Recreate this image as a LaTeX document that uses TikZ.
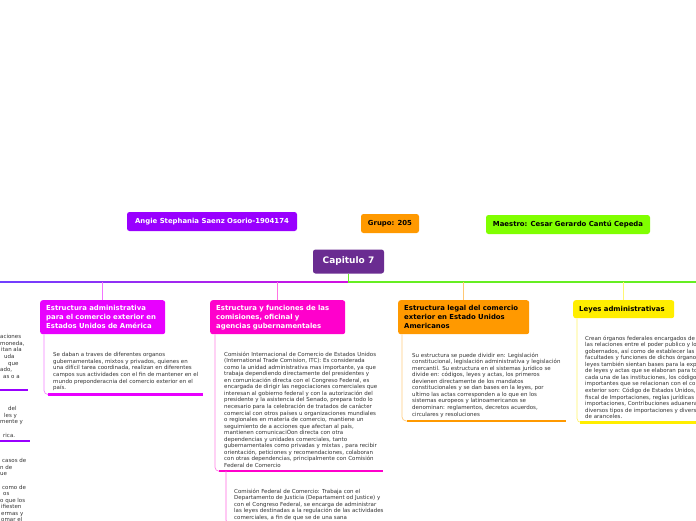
\documentclass[tikz,border=0pt]{standalone}
\usepackage{fontspec}
\setmainfont{DejaVu Sans}
\usepackage{tikz}
\usetikzlibrary{positioning,calc}
\definecolor{morado}    {RGB}{106, 44,145}
\definecolor{violeta}   {RGB}{153,  0,255}
\definecolor{naranja}   {RGB}{255,153,  0}
\definecolor{lima}      {RGB}{128,255,  0}
\definecolor{magentaRama}{RGB}{232, 0,255}
\definecolor{rosa}      {RGB}{255,  0,204}
\definecolor{amarillo}  {RGB}{255,238,  0}
\definecolor{ramaVerde} {RGB}{102,238, 34}
\definecolor{ramaIzq}   {RGB}{112, 64,255}
\definecolor{ramaDer}   {RGB}{208, 16,224}

\begin{document}
\begin{tikzpicture}[x=1pt,y=-1pt,
          cabeza/.style={rounded corners=2.5pt,inner sep=0pt,minimum height=19pt,
                         font=\fontsize{6.9}{9}\selectfont\bfseries},
          rama/.style={cabeza,anchor=north west,inner xsep=6pt,align=left,
                       minimum height=34pt},
          texto/.style={anchor=north west,inner sep=0pt,align=left,text=black!80,
                        font=\fontsize{5.5}{6.55}\selectfont},
          enlace/.style={line width=0.7pt,rounded corners=4pt},
          subrayado/.style={line width=2.5pt},
        ]
        \path[fill=white,use as bounding box] (0,0) rectangle (696,520);
        \clip (0,0) rectangle (696,520);
        % cabecera
        \node[cabeza,fill=violeta,text=white,minimum width=170pt] (autor) at (212,221.5)
             {Angie Stephania Saenz Osorio-1904174};
        \node[cabeza,fill=naranja,minimum width=58pt] (grupo) at (390,223.5) {Grupo: 205};
        \node[cabeza,fill=lima,minimum width=164pt] (maestro) at (568,224.5)
             {Maestro: Cesar Gerardo Cantú Cepeda};
        \node[cabeza,fill=morado,text=white,minimum width=71pt,minimum height=24pt,
              font=\fontsize{9}{11}\selectfont\bfseries] (cap) at (348.5,261.5) {Capitulo 7};
        \coordinate (hub) at (cap.south |- 0,282);
        % ramas
        \node[rama,fill=magentaRama,text=white,text width=113pt] (b1) at (40,300)
             {Estructura administrativa\\para el comercio exterior en\\Estados Unidos de América};
        \node[rama,fill=rosa,text=white,text width=123pt] (b2) at (210,300)
             {Estructura y funciones de las\\comisiones, oficinal y\\agencias gubernamentales};
        \node[rama,fill=naranja,text width=119pt] (b3) at (398,300)
             {Estructura legal del comercio\\exterior en Estado Unidos\\Americanos};
        \node[rama,fill=amarillo,text width=89pt,minimum height=18pt] (b4) at (573,300)
             {Leyes administrativas};
        \shade[left color=ramaIzq,right color=ramaDer] (0,281.2) rectangle ([yshift=-0.8pt]hub);
        \draw[ramaVerde,line width=1.6pt] (cap.south) |- (696,282);
        \foreach \b/\c in {b1/magentaRama,b2/rosa,b3/naranja,b4/amarillo}{
          \draw[\c!55,line width=0.8pt] (\b.north) -- (\b.north |- hub);
        }
        % textos
        \node[texto] (t1) at (53,352.5)
             {Se daban a traves de diferentes organos\\
              gubernamentales, mixtos y privados, quienes en\\
              una difícil tarea coordinada, realizan en diferentes\\
              campos sus actividades con el fin de mantener en el\\
              mundo preponderacnia del comercio exterior en el\\
              país.};
        \node[texto] (t2a) at (224,351.5)
             {Comisión Internacional de Comercio de Estados Unidos\\
              (International Trade Comision, ITC): Es considerada\\
              como la unidad administrativa mas importante, ya que\\
              trabaja dependiendo directamente del presidentes y\\
              en comunicación directa con el Congreso Federal, es\\
              encargada de dirigir las negociaciones comerciales que\\
              interesan al gobierno federal y con la autorización del\\
              presidente y la asistencia del Senado, prepara todo lo\\
              necesario para la celebración de tratados de carácter\\
              comercial con otros países u organizaciones mundiales\\
              o regionales en materia de comercio, mantiene un\\
              seguimiento de a acciones que afectan al país,\\
              mantienen comunicaciÓon directa con otra\\
              dependencias y unidades comerciales, tanto\\
              gubernamentales como privadas y mixtas , para recibir\\
              orientación, peticiones y recomendaciones, colaboran\\
              con otras dependencias, principalmente con Comisión\\
              Federal de Comercio};
        \node[texto] (t2b) at (234,488.5)
             {Comisión Federal de Comercio: Trabaja con el\\
              Departamento de Justicia (Departament od Justice) y\\
              con el Congreso Federal, se encarga de administrar\\
              las leyes destinadas a la regulación de las actividades\\
              comerciales, a fin de que se de una sana};
        \node[texto] (t3) at (412,352.5)
             {Su estructura se puede dividir en: Legislación\\
              constitucional, legislación administrativa y legislación\\
              mercantil. Su estructura en el sistemas jurídico se\\
              divide en: códigos, leyes y actas, los primeros\\
              devienen directamente de los mandatos\\
              constitucionales y se dan bases en la leyes, por\\
              ultimo las actas corresponden a lo que en los\\
              sistemas europeos y latinoamericanos se\\
              denominan: reglamentos, decretos acuerdos,\\
              circulares y resoluciones};
        \node[texto] (t4) at (585,335.5)
             {Crean órganos federales encargados de\\
              las relaciones entre el poder publico y los\\
              gobernados, así como de establecer las\\
              facultades y funciones de dichos órganos\\
              leyes también sientan bases para la expedición\\
              de leyes y actas que se elaboran para todas\\
              cada una de las instituciones, los códigos\\
              importantes que se relacionan con el comercio\\
              exterior son: Código de Estados Unidos,\\
              fiscal de Importaciones, reglas jurídicas\\
              importaciones, Contribuciones aduaneras\\
              diversos tipos de importaciones y diversos\\
              de aranceles.};
        \node[texto] (la) at (0,334.5)
             {aciones\\moneda,\\\hspace*{1pt}itan ala\\\hspace*{4pt}uda\\\hspace*{8pt}que\\
              ado,\\\hspace*{3pt}as o a};
        \node[texto] (lb) at (0,406.5)
             {\hspace*{8pt}del\\\hspace*{4pt}les y\\mente y\\\mbox{}\\\hspace*{3pt}rica.};
        \node[texto] (lc) at (0,458.5)
             {\hspace*{2pt}casos de\\n de\\ue\\\mbox{}\\\hspace*{2pt}como de\\\hspace*{3pt}os\\
              o que los\\\hspace*{1pt}ifiesten\\\hspace*{1pt}ermas y\\\hspace*{1pt}omar el};
        % enlaces y subrayados
        \draw[enlace,magentaRama!50] ([xshift=4pt]b1.south west) |- ([shift={(-5,3.5)}]t1.south west);
        \draw[subrayado,magentaRama] ([shift={(-5,3.5)}]t1.south west) -- ++(155,0);
        \draw[enlace,rosa!50] ([xshift=5pt]b2.south west) |- ([shift={(-5,3.5)}]t2a.south west);
        \draw[subrayado,rosa] ([shift={(-5,3.5)}]t2a.south west) -- ++(164,0);
        \draw[enlace,rosa!60] ([shift={(2,3.5)}]t2a.south west) |- ([shift={(-5,3.5)}]t2b.south west);
        \draw[enlace,naranja!50] ([xshift=4pt]b3.south west) |- ([shift={(-5,3.5)}]t3.south west);
        \draw[subrayado,naranja] ([shift={(-5,3.5)}]t3.south west) -- ++(159,0);
        \draw[enlace,amarillo!60] ([xshift=4pt]b4.south west) |- ([shift={(-5,3.5)}]t4.south west);
        \draw[subrayado,amarillo] ([shift={(-5,3.5)}]t4.south west) -- ++(130,0);
        \draw[subrayado,violeta] (0,390) -- (28,390);
        \draw[subrayado,violeta] (0,441) -- (30,441);
      \end{tikzpicture}
\end{document}
